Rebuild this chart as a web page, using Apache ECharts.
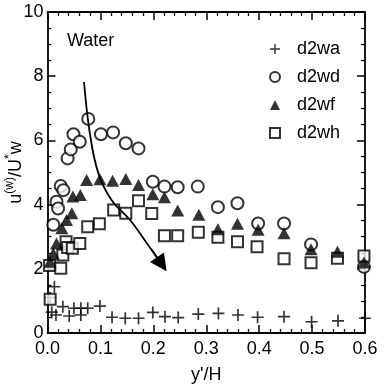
<!DOCTYPE html>
<html>
<head>
<meta charset="utf-8">
<script src="https://cdn.jsdelivr.net/npm/echarts@6/dist/echarts.min.js"></script>
<style>
  html, body { margin: 0; padding: 0; background: #fff; }
  #chart { width: 392px; height: 384px; }
</style>
</head>
<body>
<div id="chart"></div>
<script>
// Mean velocity profiles, water phase, normalised by wall friction velocity
const seriesNames = ['d2wa', 'd2wd', 'd2wf', 'd2wh'];

const d2wa = [
  [0.005, 1.10], [0.008, 0.65], [0.013, 1.44], [0.016, 0.56], [0.029, 0.82],
  [0.041, 0.53], [0.050, 0.77], [0.063, 0.77], [0.063, 0.56], [0.076, 0.77],
  [0.099, 0.84], [0.122, 0.49], [0.147, 0.46], [0.172, 0.46], [0.199, 0.64],
  [0.222, 0.51], [0.247, 0.48], [0.285, 0.59], [0.323, 0.61], [0.360, 0.56],
  [0.397, 0.49], [0.447, 0.51], [0.499, 0.35], [0.549, 0.38], [0.600, 0.46]
];

const d2wd = [
  [0.011, 3.37], [0.017, 4.09], [0.020, 3.88], [0.025, 4.58], [0.030, 4.45],
  [0.038, 5.44], [0.044, 5.72], [0.049, 6.19], [0.061, 5.96], [0.077, 6.67],
  [0.101, 6.19], [0.124, 6.25], [0.148, 5.91], [0.172, 5.75], [0.199, 4.71],
  [0.221, 4.56], [0.246, 4.54], [0.284, 4.56], [0.322, 3.92], [0.359, 4.04],
  [0.398, 3.41], [0.447, 3.41], [0.498, 2.76], [0.598, 2.06]
];

const d2wf = [
  [0.005, 2.22], [0.011, 2.48], [0.017, 2.79], [0.027, 3.26], [0.036, 3.52],
  [0.046, 3.73], [0.048, 4.25], [0.062, 4.30], [0.074, 4.77], [0.099, 4.79],
  [0.123, 4.74], [0.148, 4.80], [0.172, 4.61], [0.199, 4.32], [0.221, 4.23],
  [0.246, 3.82], [0.286, 3.68], [0.322, 3.23], [0.359, 3.40], [0.398, 3.22],
  [0.447, 3.11], [0.498, 2.61], [0.548, 2.53], [0.598, 2.20]
];

const d2wh = [
  [0.005, 1.05], [0.004, 2.10], [0.025, 2.02], [0.029, 2.43], [0.035, 2.84],
  [0.038, 2.66], [0.047, 2.64], [0.061, 2.79], [0.076, 3.31], [0.098, 3.40],
  [0.125, 3.83], [0.148, 3.73], [0.172, 4.12], [0.197, 3.72], [0.221, 3.03],
  [0.246, 3.03], [0.285, 3.14], [0.322, 2.98], [0.359, 2.84], [0.396, 2.69],
  [0.447, 2.31], [0.498, 2.19], [0.548, 2.33], [0.598, 2.40]
];

// Trend arrow through the peak locations
const trendCurve = [
  [0.069, 7.82], [0.080, 6.23], [0.096, 4.98], [0.121, 4.14],
  [0.156, 3.52], [0.188, 2.79], [0.210, 2.28]
];
const trendHead = [[0.196, 2.62], [0.216, 2.14]];

const xTicks = { min: 0, max: 0.6, interval: 0.1 };
const yTicks = { min: 0, max: 10, interval: 2 };

const FONT = '"Liberation Sans", Arial, Helvetica, sans-serif';
const PLUS = 'path://M4.3,0H5.7V4.3H10V5.7H5.7V10H4.3V5.7H0V4.3H4.3Z';

const axisCommon = {
  axisLine: { show: true, onZero: false, lineStyle: { color: '#000', width: 1.8 } },
  axisTick: { show: true, inside: true, length: 8, lineStyle: { color: '#000', width: 1.5 } },
  minorTick: { show: true, length: 4, lineStyle: { color: '#000', width: 1.3 } },
  splitLine: { show: false }
};

const chart = echarts.init(document.getElementById('chart'), null, { renderer: 'canvas' });

chart.setOption({
  backgroundColor: '#fff',
  animation: false,
  textStyle: { fontFamily: FONT, color: '#000' },
  title: {
    text: 'Water', left: 62, top: 27,
    textStyle: { fontFamily: FONT, fontSize: 18, fontWeight: 'normal', color: '#000' }
  },
  legend: {
    data: seriesNames,
    orient: 'vertical',
    left: 264, top: 35,
    itemWidth: 10, itemHeight: 10, itemGap: 10,
    textStyle: { fontFamily: FONT, fontSize: 18, color: '#000', padding: [0, 0, 0, 12] }
  },
  grid: { left: 47.5, right: 27, top: 12, bottom: 51, containLabel: false, outerBoundsMode: 'none' },
  xAxis: [
    Object.assign({
      type: 'value', position: 'bottom',
      min: xTicks.min, max: xTicks.max, interval: xTicks.interval,
      name: "y'/H", nameLocation: 'middle', nameGap: 33, nameMoveOverlap: false,
      nameTextStyle: { fontFamily: FONT, fontSize: 18, color: '#000' },
      axisLabel: { margin: 7, fontSize: 18, color: '#000', fontFamily: FONT,
                   formatter: v => v.toFixed(1) }
    }, axisCommon, { minorTick: Object.assign({ splitNumber: 5 }, axisCommon.minorTick) }),
    Object.assign({
      type: 'value', position: 'top',
      min: xTicks.min, max: xTicks.max, interval: xTicks.interval,
      axisLabel: { show: false }
    }, axisCommon, { minorTick: Object.assign({ splitNumber: 5 }, axisCommon.minorTick) })
  ],
  yAxis: [
    Object.assign({
      type: 'value', position: 'left',
      min: yTicks.min, max: yTicks.max, interval: yTicks.interval,
      name: '{n|u}{s|(w)}{n|/U}{s|*}{n|w}',
      nameLocation: 'middle', nameGap: 22, nameRotate: 90, nameMoveOverlap: false,
      nameTextStyle: {
        rich: {
          n: { fontFamily: FONT, fontSize: 18, color: '#000', lineHeight: 22, verticalAlign: 'bottom' },
          s: { fontFamily: FONT, fontSize: 12, color: '#000', lineHeight: 12, verticalAlign: 'top' }
        }
      },
      axisLabel: { margin: 4, fontSize: 18, color: '#000', fontFamily: FONT }
    }, axisCommon, { minorTick: Object.assign({ splitNumber: 4 }, axisCommon.minorTick) }),
    Object.assign({
      type: 'value', position: 'right',
      min: yTicks.min, max: yTicks.max, interval: yTicks.interval,
      axisLabel: { show: false }
    }, axisCommon, { minorTick: Object.assign({ splitNumber: 4 }, axisCommon.minorTick) })
  ],
  series: [
    {
      name: 'd2wa', type: 'scatter', data: d2wa, z: 2,
      symbol: PLUS, symbolSize: 12,
      itemStyle: { color: '#000' }
    },
    {
      name: 'd2wd', type: 'scatter', data: d2wd, z: 2,
      symbol: 'emptyCircle', symbolSize: 12,
      itemStyle: { color: '#000', borderColor: '#000', borderWidth: 2 }
    },
    {
      name: 'd2wf', type: 'scatter', data: d2wf, z: 4,
      symbol: 'triangle', symbolSize: [13, 12],
      itemStyle: { color: '#000' }
    },
    {
      name: 'd2wh', type: 'scatter', data: d2wh, z: 3,
      symbol: 'emptyRect', symbolSize: 11,
      itemStyle: { color: '#000', borderColor: '#000', borderWidth: 2 }
    },
    {
      name: 'trend', type: 'line', data: trendCurve, z: 5,
      smooth: 0.4, symbol: 'none', silent: true,
      lineStyle: { color: '#000', width: 1.8 }
    },
    {
      name: 'trendHead', type: 'lines', coordinateSystem: 'cartesian2d', z: 6,
      data: [{ coords: trendHead }],
      symbol: ['none', 'triangle'], symbolSize: [11, 17], silent: true,
      lineStyle: { color: '#000', width: 1.8, opacity: 1 },
      itemStyle: { color: '#000' }
    }
  ]
});
</script>
</body>
</html>
